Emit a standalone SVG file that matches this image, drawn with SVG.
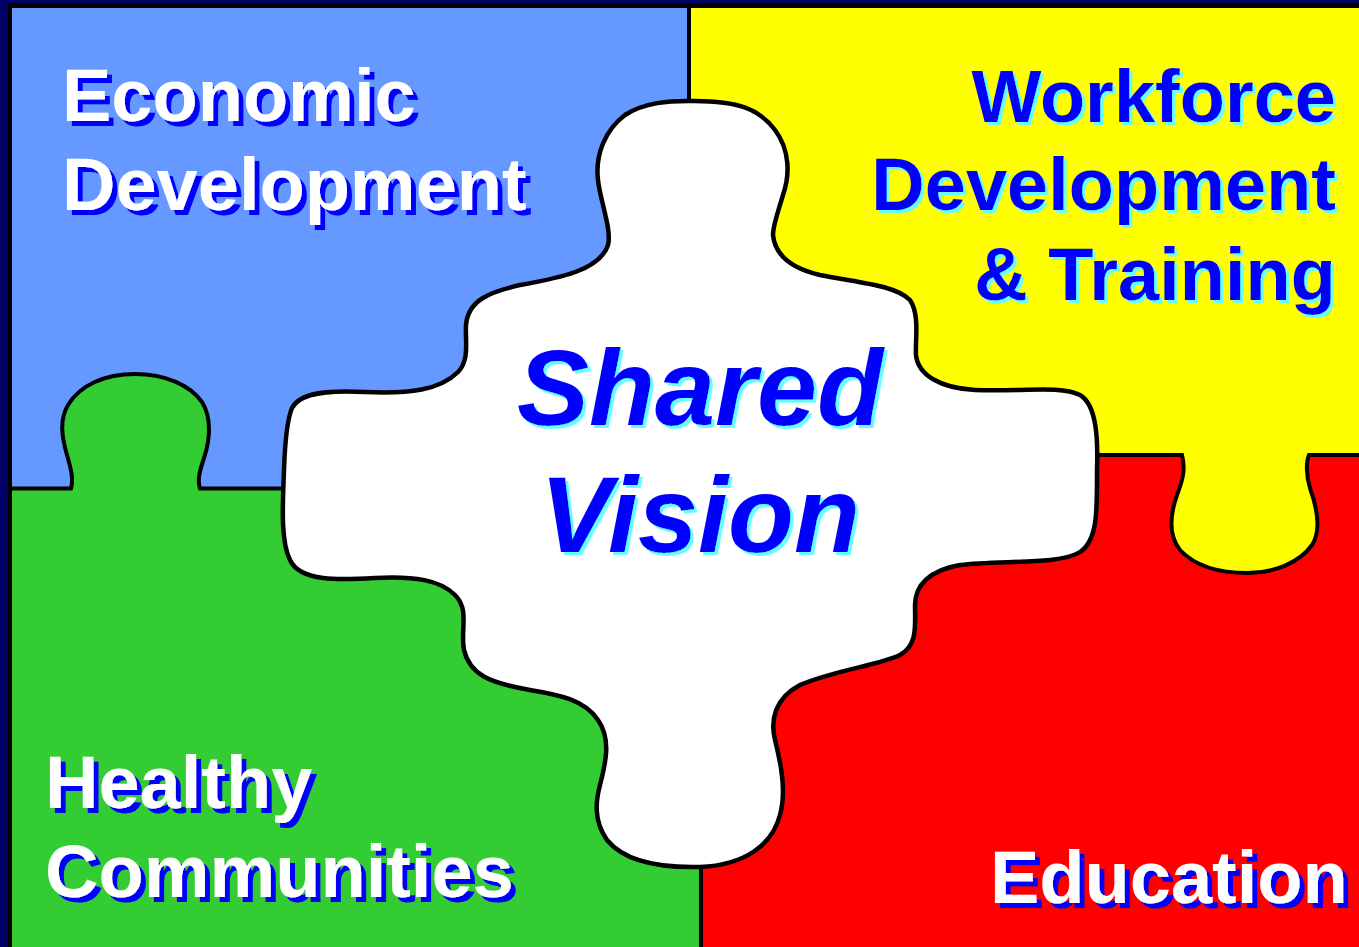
<svg xmlns="http://www.w3.org/2000/svg" width="1359" height="947" viewBox="0 0 1359 947">
<defs>
<filter id="shBlue" x="-5%" y="-10%" width="115%" height="135%">
<feFlood flood-color="#0000FF"/>
<feComposite in2="SourceAlpha" operator="in"/>
<feOffset dx="5" dy="5" result="s"/>
<feMerge><feMergeNode in="s"/><feMergeNode in="SourceGraphic"/></feMerge>
</filter>
<filter id="shCyan" x="-5%" y="-10%" width="115%" height="135%">
<feFlood flood-color="#66FFFF"/>
<feComposite in2="SourceAlpha" operator="in"/>
<feOffset dx="3" dy="3" result="s"/>
<feMerge><feMergeNode in="s"/><feMergeNode in="SourceGraphic"/></feMerge>
</filter>
</defs>
<style>
.t{font-family:"Liberation Sans",Arial,sans-serif;font-weight:bold;font-size:74px}
.sv{font-family:"Liberation Sans",Arial,sans-serif;font-weight:bold;font-style:italic;font-size:108px;text-anchor:middle}
.w{fill:#FFFFFF;filter:url(#shBlue)}
.b{fill:#0000FF;filter:url(#shCyan)}
.line{fill:none;stroke:#000000;stroke-width:4}
.piece{fill:#FFFFFF;stroke:#000000;stroke-width:4.5;stroke-linejoin:round}
</style>
<rect x="0" y="0" width="1359" height="947" fill="#000066"/>
<rect x="8" y="3" width="1351" height="944" fill="#000000"/>
<g id="economic-development">
<rect x="12" y="8" width="677" height="480" fill="#6699FF"/>
<text class="t w" x="62" y="121">Economic</text>
<text class="t w" x="62" y="210">Development</text>
</g>
<g id="workforce-development">
<rect x="689" y="8" width="670" height="447" fill="#FFFF00"/>
<g text-anchor="end">
<text class="t b" x="1336" y="122">Workforce</text>
<text class="t b" x="1336" y="210">Development</text>
<text class="t b" x="1336" y="300">&amp; Training</text>
</g>
</g>
<g id="healthy-communities">
<rect x="12" y="488" width="689" height="459" fill="#33CC33"/>
<path d="M 71,495 L 71,489 C 74,478 70,466 67,455 C 62,438 59,420 68,405 C 80,385 105,374 135,374 C 165,374 190,385 202,402 C 212,418 210,440 204,458 C 200,470 197,480 200,489 L 200,495 Z" fill="#33CC33"/>
<text class="t w" x="45" y="808">Healthy</text>
<text class="t w" x="45" y="897">Communities</text>
</g>
<g id="education">
<rect x="701" y="455" width="658" height="492" fill="#FF0000"/>
<path d="M 1182,450 L 1182,455 C 1186,470 1182,482 1177,495 C 1170,515 1168,535 1180,550 C 1195,566 1220,573 1248,573 C 1275,573 1300,562 1312,545 C 1322,530 1316,505 1310,488 C 1306,475 1306,462 1309,455 L 1309,450 Z" fill="#FFFF00"/>
<text class="t w" x="990" y="903">Education</text>
</g>
<g id="connectors">
<path class="line" d="M 12,488.5 L 71,488.5 C 74,478 70,466 67,455 C 62,438 59,420 68,405 C 80,385 105,374 135,374 C 165,374 190,385 202,402 C 212,418 210,440 204,458 C 200,470 197,480 200,488.5 L 286,488.5"/>
<path class="line" d="M 1095,455 L 1182,455 C 1186,470 1182,482 1177,495 C 1170,515 1168,535 1180,550 C 1195,566 1220,573 1248,573 C 1275,573 1300,562 1312,545 C 1322,530 1316,505 1310,488 C 1306,475 1306,462 1309,455 L 1359,455"/>
<path class="line" d="M 689,8 L 689,104"/>
<path class="line" d="M 701,864 L 701,947"/>
</g>
<g id="shared-vision">
<path class="piece" d="M 688,101 C 740,100 760,110 775,130 C 790,150 790,175 783,195 C 778,212 773,225 773,235 C 775,255 790,268 820,275 C 860,283 895,285 910,300 C 920,315 915,340 916,355 C 918,375 940,388 975,390 C 1020,392 1060,385 1080,395 C 1097,405 1098,440 1097,470 C 1097,510 1098,540 1080,552 C 1060,565 1000,560 960,565 C 930,570 915,585 915,605 C 915,625 918,645 900,655 C 880,665 835,670 800,685 C 775,698 770,720 775,740 C 780,760 787,790 780,815 C 772,845 745,865 700,867 C 660,868 625,862 607,840 C 593,820 596,800 600,785 C 605,765 612,740 598,720 C 585,700 560,695 530,690 C 490,683 470,675 464,650 C 460,630 470,610 455,595 C 440,580 415,576 375,578 C 340,580 300,582 290,560 C 280,540 283,500 284,470 C 285,440 287,420 292,408 C 300,392 330,390 365,392 C 410,394 440,390 458,372 C 470,360 465,340 466,325 C 468,300 490,292 520,285 C 560,278 600,270 608,245 C 612,230 600,200 598,180 C 595,155 605,130 625,115 C 645,102 670,101 688,101 Z"/>
<text class="sv b" x="700" y="425">Shared</text>
<text class="sv b" x="700" y="552">Vision</text>
</g>
</svg>
